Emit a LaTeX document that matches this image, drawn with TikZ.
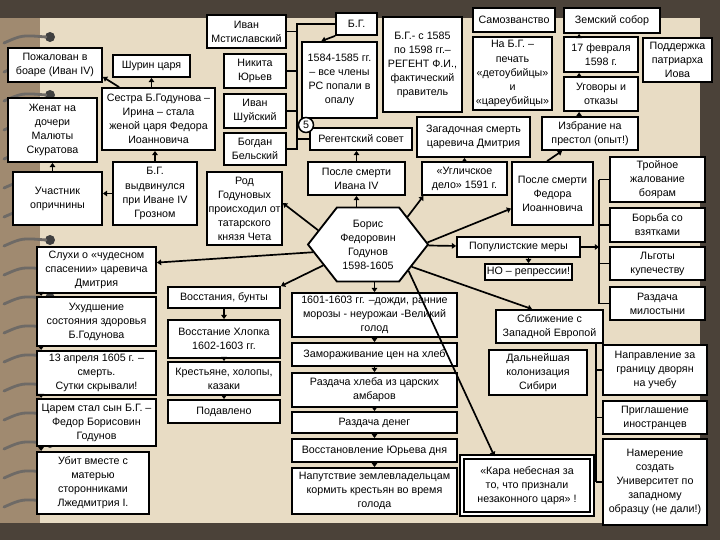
\documentclass[tikz,border=0pt]{standalone}
\usepackage{fontspec}
\setmainfont{Liberation Sans}
\usetikzlibrary{arrows.meta,calc,shapes.symbols}
\definecolor{bgframe}{HTML}{4B4239}
\definecolor{bgstrip}{HTML}{A08A70}
\definecolor{bgpaper}{HTML}{E8DCC4}
\definecolor{ringwire}{HTML}{6E6A66}

\begin{document}
\begin{tikzpicture}[
    x=0.025cm, y=-0.025cm,
    box/.style={draw, fill=white, line width=1.3pt, align=center, inner sep=1pt,
      font=\fontsize{7.6}{10}\selectfont},
    sz/.style 2 args={minimum width=#1*0.025cm, minimum height=#2*0.025cm},
    hexa/.style={box, shape=signal, signal to=west and east, signal pointer angle=104},
    circ/.style={draw, fill=white, circle, line width=1.1pt, inner sep=0.5pt,
      minimum size=15*0.025cm, font=\fontsize{7.6}{10}\selectfont},
    arr/.style={-{Triangle[length=3pt,width=4pt]}, line width=1.2pt},
    link/.style={line width=1.2pt}
  ]
  \useasboundingbox (0,0) rectangle (720,540);
  % slide background and binding
  \fill[bgframe] (0,0) rectangle (720,540);
  \fill[bgstrip] (0,18) rectangle (40,523);
  \fill[bgpaper] (40,18) rectangle (700,523);
  \foreach \ry in {37,66,...,502} {
    \fill[black!75] (50,\ry) circle (5);
    \draw[ringwire, line width=2pt, line cap=round] (4,\ry+6) .. controls (22,\ry-2) .. (46,\ry);
  }

  % left column
  \node[box, sz={94}{34}] (A1) at (55,65) {Пожалован в\\боаре (Иван IV)};
  \node[box, sz={89}{64}] (A2) at (52.5,130) {Женат на\\дочери\\Малюты\\Скуратова};
  \node[box, sz={89}{53}] (A3) at (57.5,198.5) {Участник\\опричнины};
  \node[box, sz={119}{46}] (A4) at (96.5,270) {Слухи о «чудесном\\спасении» царевича\\Дмитрия};
  \node[box, sz={119}{49}] (A5) at (96.5,321.5) {Ухудшение\\состояния здоровья\\Б.Годунова};
  \node[box, sz={119}{44}] (A6) at (96.5,373) {13 апреля 1605 г. –\\смерть.\\Сутки скрывали!};
  \node[box, sz={119}{47}] (A7) at (96.5,422.5) {Царем стал сын Б.Г. –\\Федор Борисовин\\Годунов};
  \node[box, sz={112}{62}] (A8) at (93,483) {Убит вместе с\\матерью\\сторонниками\\Лжедмитрия I.};

  \node[box, sz={77}{22}] (B1) at (151.5,66) {Шурин царя};
  \node[box, sz={113}{62}] (B2) at (158.5,119) {Сестра Б.Годунова –\\Ирина – стала\\женой царя Федора\\Иоанновича};
  \node[box, sz={84}{63}] (B3) at (155,193.5) {Б.Г.\\выдвинулся\\при Иване IV\\Грозном};

  % regency council
  \node[box, sz={79}{33}] (C1) at (246.5,31.5) {Иван\\Мстиславский};
  \node[box, sz={62}{34}] (C2) at (255,71) {Никита\\Юрьев};
  \node[box, sz={62}{34}] (C3) at (255,111) {Иван\\Шуйский};
  \node[box, sz={62}{32}] (C4) at (255,149) {Богдан\\Бельский};
  \node[box, sz={75}{73}] (C5) at (244.5,208.5) {Род\\Годуновых\\происходил от\\татарского\\князя Чета};
  \node[box, sz={112}{21}] (C6) at (224,297.5) {Восстания, бунты};
  \node[box, sz={112}{38}] (C7) at (224,339) {Восстание Хлопка\\1602-1603 гг.};
  \node[box, sz={112}{33}] (C8) at (224,378.5) {Крестьяне, холопы,\\казаки};
  \node[box, sz={112}{23}] (C9) at (224,411.5) {Подавлено};

  \node[box, sz={41}{22}] (D1) at (356.5,24) {Б.Г.};
  \node[box, sz={75}{76}] (D2) at (339.5,80) {1584-1585 гг.\\– все члены\\РС попали в\\опалу};
  \node[box, sz={79}{95}] (D3) at (422.5,64.5) {Б.Г.- с 1585\\по 1598 гг.–\\РЕГЕНТ Ф.И.,\\фактический\\правитель};
  \node[box, sz={102}{22}] (D4) at (361,139) {Регентский совет};
  \node[box, sz={113}{40}] (D5) at (473.5,137) {Загадочная смерть\\царевича Дмитрия};
  \node[box, sz={97}{33}] (D6) at (356.5,178.5) {После смерти\\Ивана IV};
  \node[box, sz={85}{33}] (D7) at (464.5,178.5) {«Угличское\\дело» 1591 г.};
  \node[box, sz={81}{63}] (D8) at (552.5,193.5) {После смерти\\Федора\\Иоанновича};

  % centre
  \node[hexa, sz={120}{74}] (hex) at (368,244.5) {Борис\\Федоровин\\Годунов\\1598-1605};

  \node[box, sz={165}{44}] (D9) at (374.5,315) {1601-1603 гг. –дожди, ранние\\морозы - неурожаи -Великий\\голод};
  \node[box, sz={165}{23}] (D10) at (374.5,354.5) {Замораживание цен на хлеб};
  \node[box, sz={165}{34}] (D11) at (374.5,390) {Раздача хлеба из царских\\амбаров};
  \node[box, sz={165}{21}] (D12) at (374.5,422.5) {Раздача денег};
  \node[box, sz={165}{23}] (D13) at (374.5,450.5) {Восстановление Юрьева дня};
  \node[box, sz={165}{46}] (D14) at (374.5,491) {Напутствие землевладельцам\\кормить крестьян во время\\голода};

  % election
  \node[box, sz={82}{24}] (E1) at (514,20) {Самозванство};
  \node[box, sz={79}{73}] (E2) at (512.5,73.5) {На Б.Г. –\\печать\\«детоубийцы»\\и\\«цареубийцы»};
  \node[box, sz={96}{25}] (E3) at (612,20.5) {Земский собор};
  \node[box, sz={74}{35}] (E4) at (601,54.5) {17 февраля\\1598 г.};
  \node[box, sz={74}{34}] (E5) at (601,94) {Уговоры и\\отказы};
  \node[box, sz={69}{44}] (E6) at (677.5,60) {Поддержка\\патриарха\\Иова};
  \node[box, sz={96}{33}] (E7) at (590,133.5) {Избрание на\\престол (опыт!)};
  \node[box, sz={123}{20}] (E8) at (518.5,247) {Популистские меры};
  \node[box, sz={87}{16}] (E9) at (528.5,272) {НО – репрессии!};
  \node[box, sz={107}{33}] (E10) at (549.5,326.5) {Сближение с\\Западной Европой};
  \node[box, sz={98}{45}] (E11) at (538,372.5) {Дальнейшая\\колонизация\\Сибири};
  \node[box, double, double distance=1.5pt, sz={130}{57}] (E12) at (527,485.5) {«Кара небесная за\\то, что признали\\незаконного царя» !};

  \node[box, sz={95}{45}] (F1) at (657.5,179.5) {Тройное\\жалование\\боярам};
  \node[box, sz={95}{34}] (F2) at (657.5,225) {Борьба со\\взятками};
  \node[box, sz={95}{33}] (F3) at (657.5,263.5) {Льготы\\купечеству};
  \node[box, sz={95}{33}] (F4) at (657.5,303.5) {Раздача\\милостыни};
  \node[box, sz={104}{50}] (F5) at (655,370) {Направление за\\границу дворян\\на учебу};
  \node[box, sz={104}{33}] (F6) at (655,417.5) {Приглашение\\иностранцев};
  \node[box, sz={104}{86}] (F7) at (655,482) {Намерение\\создать\\Университет по\\западному\\образцу (не дали!)};

  % brackets
  \coordinate (brC) at (297,0);
  \coordinate (brF) at (599,0);
  \coordinate (brG) at (596,0);
  \draw[link] (D1.west) -- (D1.west -| brC) -- (C4.east -| brC) -- (C4.east);
  \foreach \n in {C1,C2,C3}
    \draw[link] (\n.east) -- (\n.east -| brC);
  \draw[link] (D4.west -| brC) -- (D4.west);
  \node[circ] (n5) at (306,125) {5};
  \draw[link] (F1.west -| brF) -- (F4.west -| brF);
  \foreach \n in {F1,F2,F3,F4}
    \draw[link] (\n.west -| brF) -- (\n.west);
  \draw[link] (E10.south -| brG) -- (F7.west -| brG);
  \foreach \n in {F5,F6,F7}
    \draw[link] (\n.west -| brG) -- (\n.west);

  % arrows
  \draw[arr] (A3.north -| A2.south) -- (A2.south);
  \draw[arr] (B2.141) -- (A1.-14);
  \draw[arr] (B2.north -| B1.south) -- (B1.south);
  \draw[arr] (B3.north) -- (B3.north |- B2.south);
  \draw[arr] (B3.west) -- (B3.west -| A3.east);
  \draw[arr] ($(A4.south west)+(5,0)$) -- ($(A5.north west)+(5,0)$);
  \draw[arr] ($(A5.south west)+(5,0)$) -- ($(A6.north west)+(5,0)$);
  \draw[arr] ($(A6.south west)+(5,0)$) -- ($(A7.north west)+(5,0)$);
  \draw[arr] ($(A7.south west)+(5,0)$) -- ($(A8.north west)+(5,0)$);
  \draw[arr] (C6) -- (C7);
  \draw[arr] (C7) -- (C8);
  \draw[arr] (C8) -- (C9);
  \draw[arr] (D1.south west) -- (D2.115);
  \draw[arr] (D6.north) -- (D6.north |- D4.south);
  \draw[arr] (D7.north) -- (D7.north |- D5.south);
  \draw[arr] ($(D8.north west)+(36,0)$) -- ($(E7.south west)+(21,0)$);
  \draw[arr] ($(E7.north west)+(38,0)$) -- ($(E5.south west)+(16,0)$);
  \draw[arr] ($(E5.north west)+(16,0)$) -- ($(E4.south west)+(16,0)$);
  \draw[arr] ($(E4.north west)+(16,0)$) -- ($(E3.south west)+(16,0)$);
  \draw[arr] (E8.south -| E9.north) -- (E9.north);
  \draw[arr] (E8.east) -- (E8.east -| brF);
  \draw[arr] (D9) -- (D10);
  \draw[arr] (D10) -- (D11);
  \draw[arr] (D11) -- (D12);
  \draw[arr] (D12) -- (D13);
  \draw[arr] (D13) -- (D14);

  % from Boris Godunov
  \draw[arr] (hex.188) -- (A4.7);
  \draw[arr] (hex.164) -- (C5.8);
  \draw[arr] (hex.205) -- (C6.north east);
  \draw[arr] (hex.north -| D6.south) -- (D6.south);
  \draw[arr] (hex.35) -- (D7.203);
  \draw[arr] (hex.2) -- (D8.200);
  \draw[arr] (hex) -- (E8);
  \draw[arr] (hex.-27) -- (E10.135);
  \draw[arr] (hex.-33) -- (E12.138);
  \draw[arr] (hex.south -| D9.north) -- (D9.north);
\end{tikzpicture}
\end{document}
